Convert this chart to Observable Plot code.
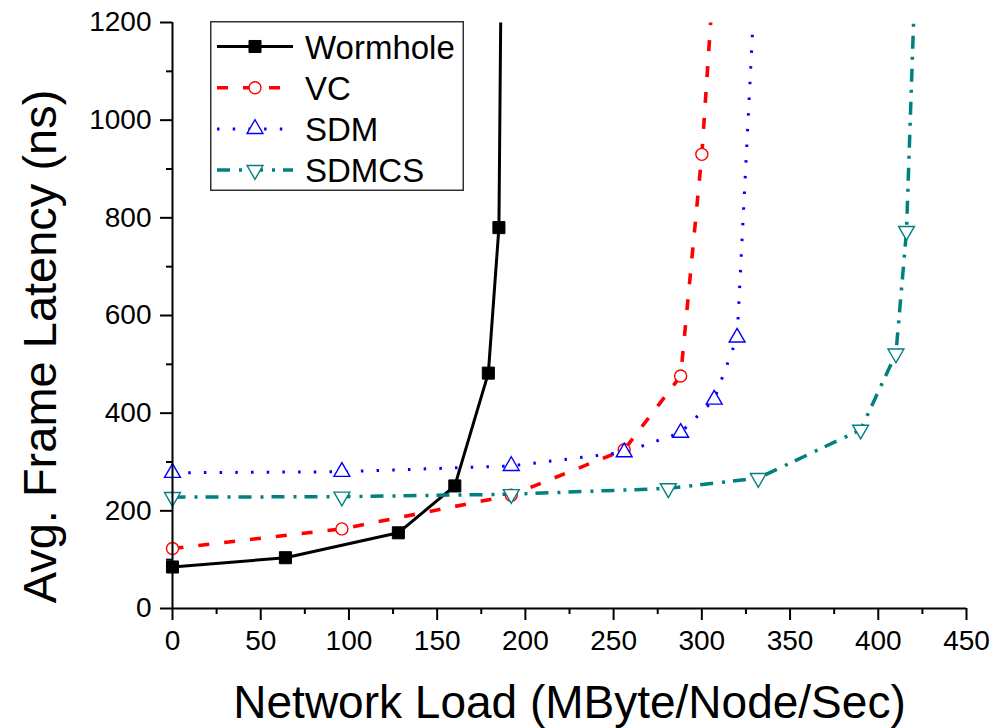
<!DOCTYPE html>
<html>
<head>
<meta charset="utf-8">
<script src="https://cdn.jsdelivr.net/npm/d3@7"></script>
<script src="https://cdn.jsdelivr.net/npm/@observablehq/plot@0.6"></script>
<style>
  html, body { margin: 0; padding: 0; background: #fff; }
  #wrap { position: relative; width: 1004px; height: 728px; font-family: "Liberation Sans", Arial, sans-serif; }
  #legend { position: absolute; left: 210px; top: 21px; }
</style>
</head>
<body>
<div id="wrap"></div>
<script>
// ---- data ----
const seriesNames = ["Wormhole", "VC", "SDM", "SDMCS"];
const wormholeLoad    = [0, 64, 128, 160, 179, 185, 186];
const wormholeLatency = [85, 104, 155, 251, 482, 780, 1200];
const vcLoad          = [0, 96, 192, 256, 288, 300, 305];
const vcLatency       = [123, 163, 232, 325, 476, 930, 1200];
const sdmLoad         = [0, 96, 192, 256, 288, 307, 320, 329];
const sdmLatency      = [278, 280, 292, 320, 360, 428, 555, 1200];
const sdmcsLoad       = [0, 96, 192, 281, 332, 390, 410, 416, 420];
const sdmcsLatency    = [228, 229, 234, 246, 267, 366, 522, 773, 1200];
const xMajorTicks = [0, 50, 100, 150, 200, 250, 300, 350, 400, 450];
const xMinorTicks = [25, 75, 125, 175, 225, 275, 325, 375, 425];
const yMajorTicks = [0, 200, 400, 600, 800, 1000, 1200];
const yMinorTicks = [100, 300, 500, 700, 900, 1100];
const xTitle = "Network Load (MByte/Node/Sec)";
const yTitle = "Avg. Frame Latency (ns)";

// ---- styles ----
const styles = {
  Wormhole: {stroke: "#000000", strokeWidth: 3, dash: null, symbol: "square", r: 6.8, fill: "#000000", rotate: 0, sw: 1},
  VC:       {stroke: "#ff0000", strokeWidth: 3.6, dash: "11,15", symbol: "circle", r: 6, fill: "#ffffff", rotate: 0, sw: 1.4},
  SDM:      {stroke: "#0000ff", strokeWidth: 3, dash: "2.5,13.2", symbol: d3.symbolTriangle, r: 5.9, fill: "#ffffff", rotate: 0, sw: 1.4},
  SDMCS:    {stroke: "#008080", strokeWidth: 3.5, dash: "13,9,3,8", symbol: d3.symbolTriangle, r: 5.9, fill: "#ffffff", rotate: 180, sw: 1.4}
};

function rows(name, xs, ys) { return xs.map((x, i) => ({series: name, load: x, latency: ys[i]})); }
const data = {
  Wormhole: rows("Wormhole", wormholeLoad, wormholeLatency),
  VC: rows("VC", vcLoad, vcLatency),
  SDM: rows("SDM", sdmLoad, sdmLatency),
  SDMCS: rows("SDMCS", sdmcsLoad, sdmcsLatency)
};

const seriesMarks = [];
for (const name of seriesNames) {
  const s = styles[name];
  seriesMarks.push(Plot.line(data[name], {
    x: "load", y: "latency", stroke: s.stroke, strokeWidth: s.strokeWidth,
    strokeDasharray: s.dash, strokeLinecap: "butt", clip: true
  }));
}
for (const name of seriesNames) {
  const s = styles[name];
  seriesMarks.push(Plot.dot(data[name].filter(d => d.latency < 1200), {
    x: "load", y: "latency", symbol: s.symbol, r: s.r, fill: s.fill,
    stroke: s.stroke, strokeWidth: s.sw, rotate: s.rotate
  }));
}

const chart = Plot.plot({
  width: 1004,
  height: 728,
  marginLeft: 172,
  marginRight: 38,
  marginTop: 22,
  marginBottom: 120,
  style: {fontFamily: "'Liberation Sans', Arial, sans-serif", background: "#fff", color: "#000", overflow: "visible"},
  x: {domain: [0, 450], label: null},
  y: {domain: [0, 1200], label: null},
  marks: [
    ...seriesMarks,
    Plot.ruleX([0], {stroke: "#000", strokeWidth: 2}),
    Plot.ruleY([0], {stroke: "#000", strokeWidth: 2}),
    Plot.axisY({ticks: yMajorTicks, tickSize: 12, tickPadding: 9, fontSize: 28, strokeWidth: 2, label: null, tickFormat: d => String(d)}),
    Plot.axisY({ticks: yMinorTicks, tickSize: 6, strokeWidth: 2, label: null, tickFormat: () => ""}),
    Plot.axisX({ticks: xMajorTicks, tickSize: 12, tickPadding: 10, fontSize: 28, strokeWidth: 2, label: null, tickFormat: d => String(d)}),
    Plot.axisX({ticks: xMinorTicks, tickSize: 6, strokeWidth: 2, label: null, tickFormat: () => ""}),
    Plot.text([xTitle], {text: d => d, frameAnchor: "bottom", dy: 95, fontSize: 46, lineAnchor: "middle", textAnchor: "middle", fill: "#000"}),
    Plot.text([yTitle], {text: d => d, frameAnchor: "left", rotate: -90, dx: -132, dy: 31, fontSize: 47, lineAnchor: "middle", textAnchor: "middle", fill: "#000"})
  ]
});
document.getElementById("wrap").appendChild(chart);

// ---- legend (overlay inside the plot area) ----
const lw = 254, lh = 170;
const legend = d3.select("#wrap").append("svg")
  .attr("id", "legend").attr("width", lw).attr("height", lh)
  .style("font-family", "'Liberation Sans', Arial, sans-serif");
legend.append("rect").attr("x", 0.75).attr("y", 0.75).attr("width", lw - 1.5).attr("height", lh - 1.5)
  .attr("fill", "#fff").attr("stroke", "#333").attr("stroke-width", 1.5);
seriesNames.forEach((name, i) => {
  const s = styles[name];
  const cy = 25.5 + i * 41.2;
  legend.append("line").attr("x1", 7).attr("x2", 83).attr("y1", cy).attr("y2", cy)
    .attr("stroke", s.stroke).attr("stroke-width", s.strokeWidth)
    .attr("stroke-dasharray", s.dash);
  const sym = typeof s.symbol === "string" ? (s.symbol === "square" ? d3.symbolSquare : d3.symbolCircle) : s.symbol;
  legend.append("path").attr("d", d3.symbol(sym, Math.PI * s.r * s.r)())
    .attr("transform", `translate(45,${cy}) rotate(${s.rotate})`)
    .attr("fill", s.fill).attr("stroke", s.stroke).attr("stroke-width", s.sw);
  legend.append("text").attr("x", 95).attr("y", cy + 12).attr("font-size", 33).attr("fill", "#000").text(name);
});
</script>
</body>
</html>
